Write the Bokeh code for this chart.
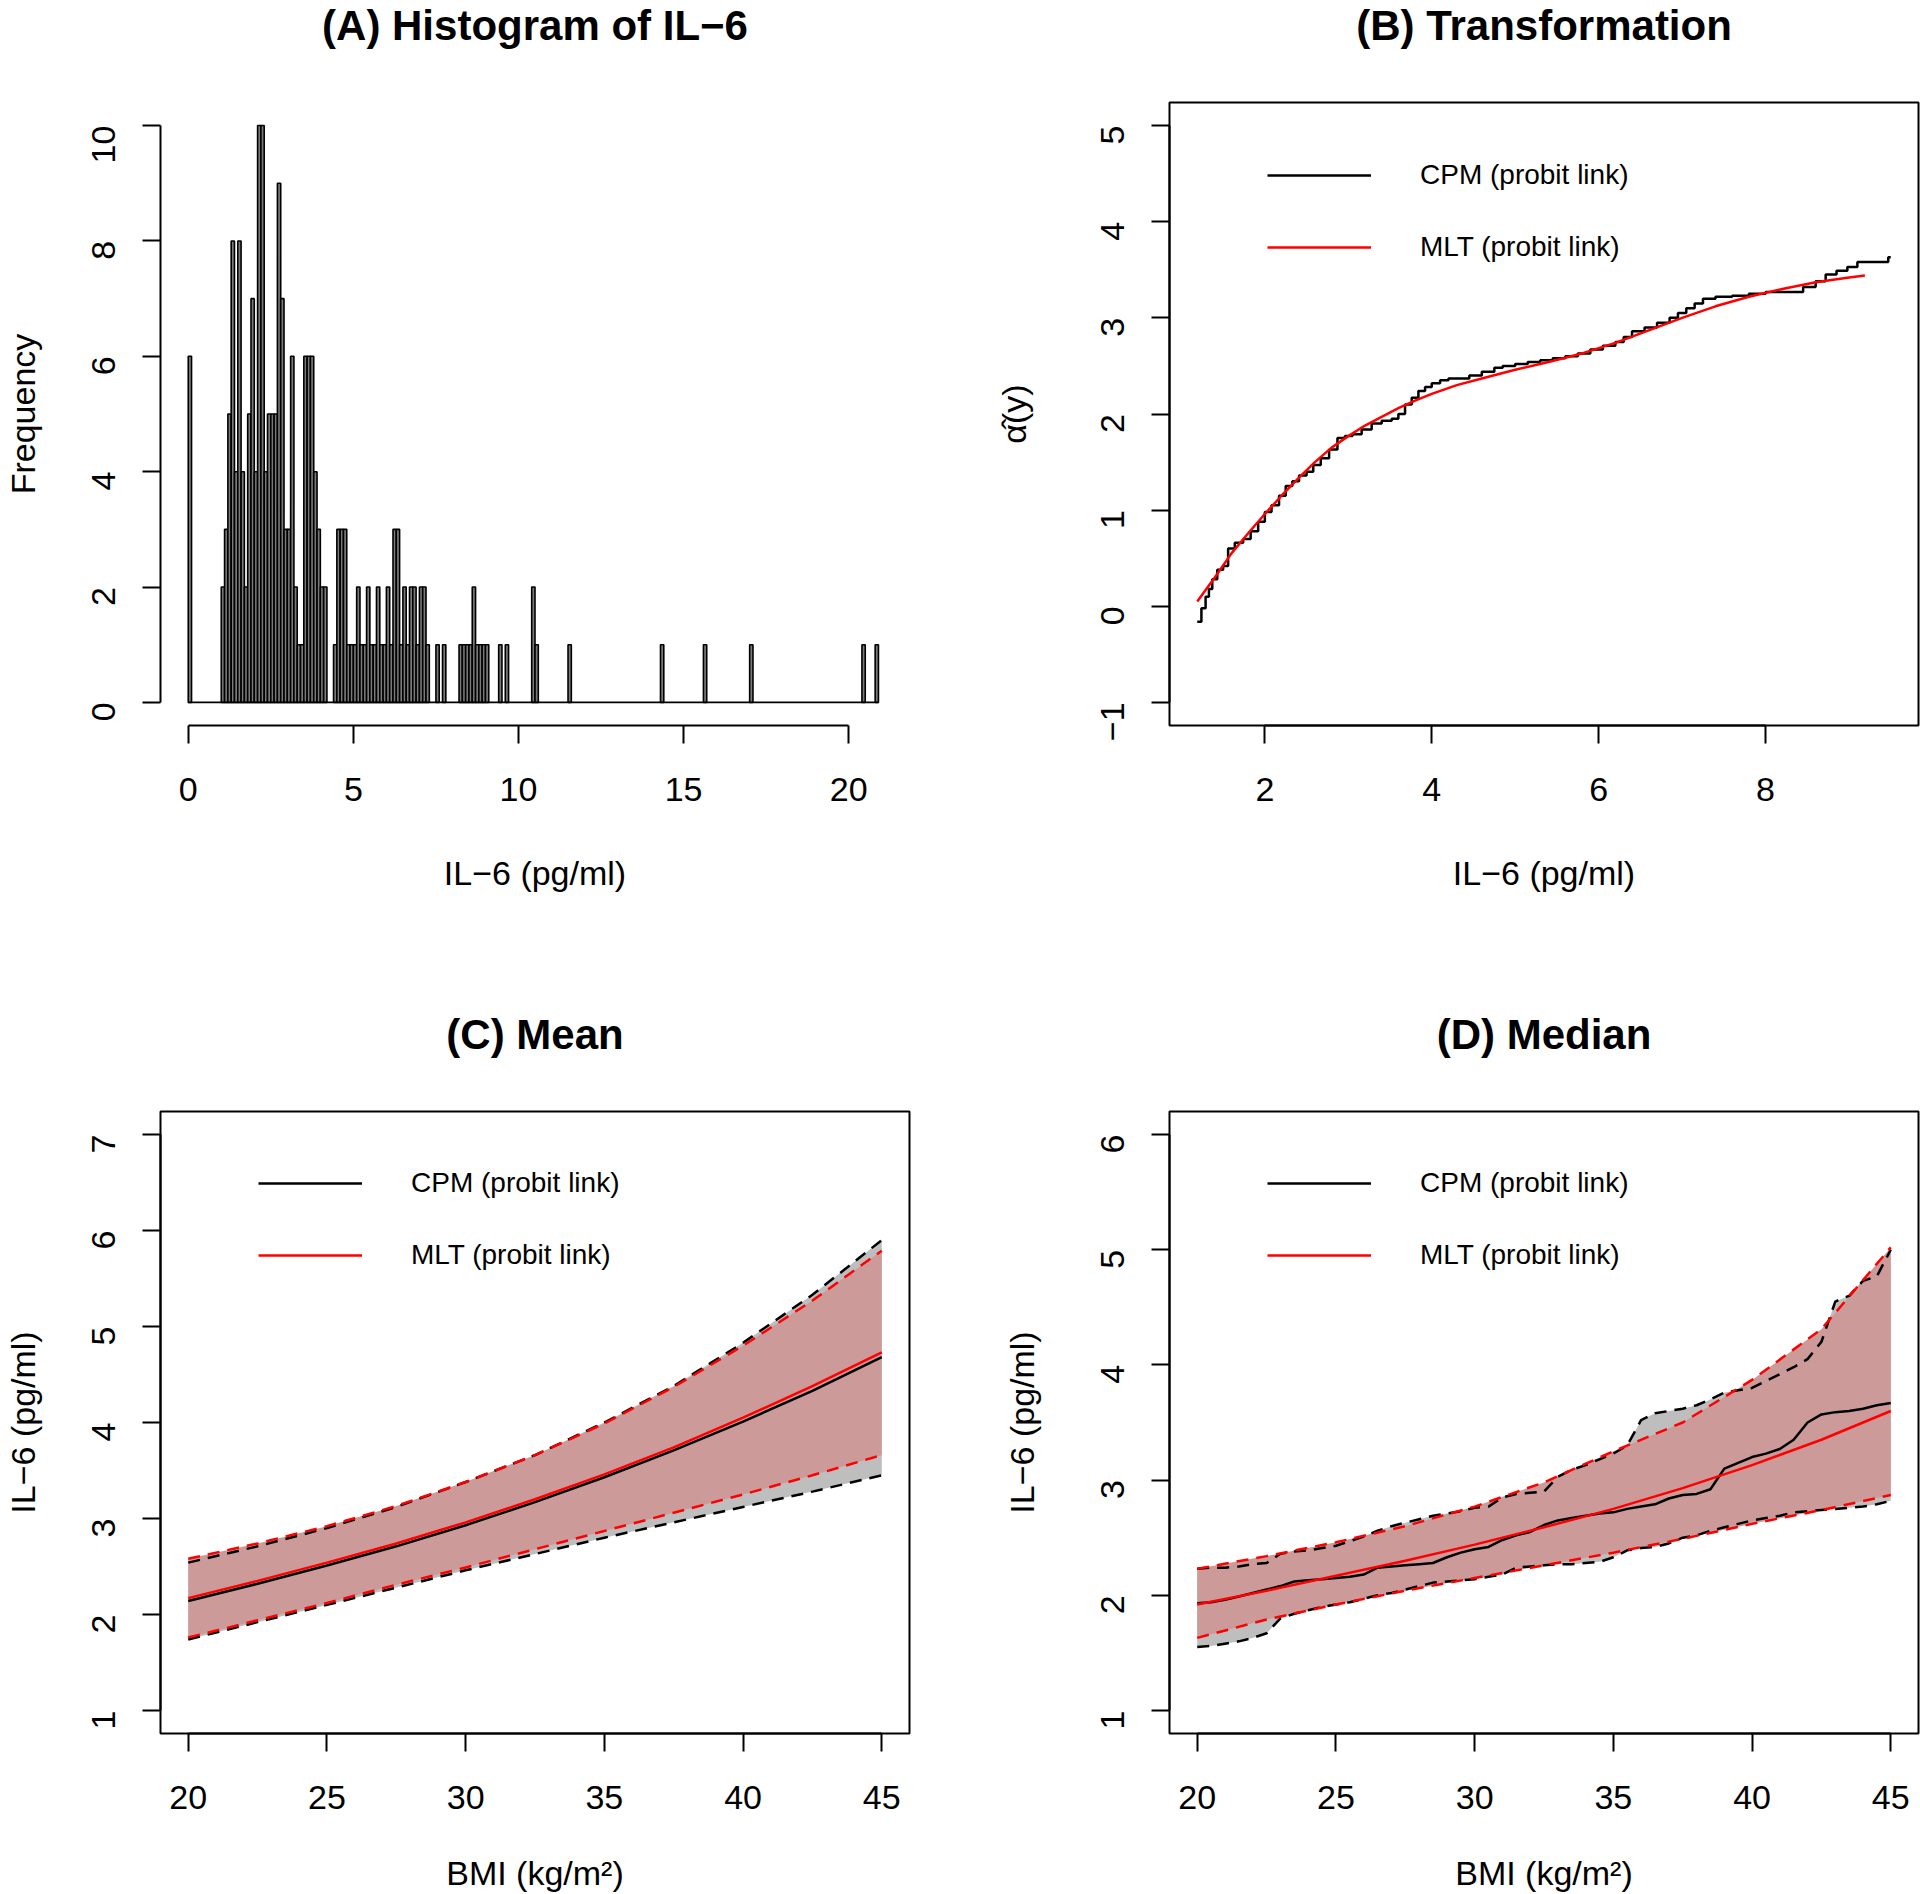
import math
from bokeh.plotting import figure
from bokeh.models import Range1d, FixedTicker, Legend, LegendItem, LinearAxis, Title
from bokeh.layouts import row, column
from bokeh.embed import file_html
from bokeh.resources import INLINE

FONT = "Liberation Sans"

# ---------------- Panel A: histogram of IL-6 ----------------
hist_bin_width = 0.1
hist_bin_start = [0.0, 1.0, 1.1, 1.2, 1.3, 1.4, 1.5, 1.6, 1.7, 1.8, 1.9, 2.0, 2.1, 2.2, 2.3, 2.4, 2.5,
                  2.6, 2.7, 2.8, 2.9, 3.0, 3.1, 3.2, 3.3, 3.4, 3.5, 3.6, 3.7, 3.8, 3.9, 4.0, 4.1,
                  4.4, 4.5, 4.6, 4.7, 4.8, 4.9, 5.0, 5.1, 5.2, 5.3, 5.4, 5.5, 5.6, 5.7, 5.8, 5.9,
                  6.0, 6.1, 6.2, 6.3, 6.4, 6.5, 6.6, 6.7, 6.8, 6.9, 7.0, 7.1, 7.2, 7.5, 7.7,
                  8.2, 8.3, 8.4, 8.5, 8.6, 8.7, 8.8, 8.9, 9.0, 9.4, 9.6, 10.4, 10.5, 11.5,
                  14.3, 15.6, 17.0, 20.4, 20.8]
hist_count = [6, 2, 3, 5, 8, 4, 8, 4, 2, 5, 7, 4, 10, 10, 4, 5, 5,
              5, 9, 7, 3, 3, 6, 2, 1, 1, 6, 6, 6, 4, 3, 2, 2,
              1, 3, 3, 3, 1, 1, 1, 2, 1, 1, 2, 1, 1, 2, 1, 1,
              2, 1, 3, 3, 1, 2, 1, 2, 2, 1, 2, 2, 1, 1, 1,
              1, 1, 1, 1, 2, 1, 1, 1, 1, 1, 1, 2, 1, 1,
              1, 1, 1, 1, 1]
hist_xticks = [0, 5, 10, 15, 20]
hist_yticks = [0, 2, 4, 6, 8, 10]

# ---------------- Panel B: transformation ----------------
cpm_il6_x = [1.19, 1.24, 1.29, 1.33, 1.37, 1.43, 1.50, 1.56, 1.64, 1.74, 1.83, 1.92, 2.00, 2.08, 2.17,
             2.25, 2.33, 2.41, 2.50, 2.58, 2.67, 2.77, 2.87, 2.96, 3.05, 3.16, 3.28, 3.40, 3.52, 3.60,
             3.68, 3.76, 3.84, 3.92, 4.00, 4.10, 4.20, 4.45, 4.60, 4.75, 4.85, 5.00, 5.15, 5.30, 5.45,
             5.60, 5.75, 5.90, 6.05, 6.20, 6.30, 6.40, 6.55, 6.70, 6.85, 6.95, 7.05, 7.15, 7.25, 7.40,
             7.60, 7.80, 8.00, 8.30, 8.45, 8.60, 8.72, 8.85, 8.98, 9.10, 9.47, 9.50]
cpm_alpha = [-0.16, -0.02, 0.10, 0.18, 0.28, 0.38, 0.42, 0.60, 0.66, 0.70, 0.78, 0.88, 0.98, 1.05, 1.15,
             1.25, 1.30, 1.36, 1.40, 1.47, 1.54, 1.63, 1.75, 1.77, 1.79, 1.84, 1.90, 1.93, 1.95, 2.00,
             2.10, 2.17, 2.24, 2.28, 2.32, 2.35, 2.37, 2.40, 2.44, 2.48, 2.50, 2.52, 2.54, 2.56, 2.58,
             2.60, 2.63, 2.67, 2.71, 2.75, 2.80, 2.86, 2.90, 2.95, 3.00, 3.05, 3.10, 3.15, 3.20, 3.22,
             3.23, 3.25, 3.27, 3.27, 3.32, 3.38, 3.45, 3.49, 3.53, 3.58, 3.63, 3.63]
mlt_il6_x = [1.19, 1.4, 1.6, 1.8, 2.0, 2.2, 2.4, 2.6, 2.8, 3.0, 3.2, 3.4, 3.6, 3.8, 4.0, 4.3, 4.6,
             5.0, 5.4, 5.8, 6.2, 6.6, 7.0, 7.4, 7.8, 8.2, 8.6, 9.0, 9.19]
mlt_alpha = [0.05, 0.30, 0.55, 0.76, 0.96, 1.15, 1.33, 1.50, 1.65, 1.77, 1.88, 1.97, 2.06, 2.14, 2.21,
             2.30, 2.37, 2.46, 2.54, 2.63, 2.74, 2.87, 3.00, 3.12, 3.22, 3.30, 3.37, 3.42, 3.44]
trans_xticks = [2, 4, 6, 8]
trans_yticks = [-1, 0, 1, 2, 3, 4, 5]
trans_ylim = (-1, 5)

# ---------------- Panel C: mean ----------------
bmi = [20, 22.5, 25, 27.5, 30, 32.5, 35, 37.5, 40, 42.5, 45]
mean_cpm = [2.14, 2.32, 2.51, 2.71, 2.93, 3.17, 3.43, 3.71, 4.01, 4.33, 4.68]
mean_cpm_lo = [1.74, 1.92, 2.10, 2.28, 2.46, 2.63, 2.80, 2.96, 3.12, 3.28, 3.45]
mean_cpm_hi = [2.54, 2.71, 2.90, 3.12, 3.38, 3.66, 4.00, 4.38, 4.83, 5.33, 5.90]
mean_mlt = [2.17, 2.35, 2.54, 2.74, 2.96, 3.20, 3.46, 3.74, 4.05, 4.38, 4.73]
mean_mlt_lo = [1.76, 1.94, 2.12, 2.31, 2.49, 2.68, 2.87, 3.06, 3.25, 3.45, 3.66]
mean_mlt_hi = [2.58, 2.74, 2.92, 3.13, 3.38, 3.66, 3.99, 4.37, 4.80, 5.27, 5.79]
mean_ylim = (1, 7)

# ---------------- Panel D: median ----------------
bmi_fine = [20.0, 20.5, 21.0, 21.5, 22.0, 22.5, 23.0, 23.5, 24.0, 24.5, 25.0, 25.5, 26.0, 26.5,
            27.0, 27.5, 28.0, 28.5, 29.0, 29.5, 30.0, 30.5, 31.0, 31.5, 32.0, 32.5, 33.0, 33.5,
            34.0, 34.5, 35.0, 35.5, 36.0, 36.5, 37.0, 37.5, 38.0, 38.5, 39.0, 39.5, 40.0, 40.5,
            41.0, 41.5, 42.0, 42.5, 43.0, 43.5, 44.0, 44.5, 45.0]
med_cpm = [1.93, 1.94, 1.96, 1.99, 2.02, 2.05, 2.08, 2.12, 2.13, 2.14, 2.15, 2.16, 2.18, 2.24,
           2.25, 2.26, 2.27, 2.28, 2.33, 2.37, 2.40, 2.42, 2.48, 2.52, 2.55, 2.61, 2.65, 2.67,
           2.69, 2.71, 2.72, 2.75, 2.77, 2.79, 2.84, 2.87, 2.88, 2.92, 3.10, 3.15, 3.20, 3.23,
           3.27, 3.35, 3.50, 3.57, 3.59, 3.60, 3.62, 3.65, 3.67]
med_cpm_hi = [2.23, 2.24, 2.24, 2.25, 2.27, 2.28, 2.36, 2.38, 2.39, 2.41, 2.43, 2.47, 2.51, 2.56,
              2.60, 2.63, 2.66, 2.69, 2.71, 2.73, 2.76, 2.77, 2.85, 2.88, 2.89, 2.90, 3.03, 3.09,
              3.13, 3.18, 3.23, 3.30, 3.52, 3.58, 3.60, 3.62, 3.65, 3.70, 3.76, 3.78, 3.80, 3.86,
              3.92, 3.98, 4.05, 4.20, 4.55, 4.60, 4.73, 4.77, 5.00]
med_cpm_lo = [1.55, 1.56, 1.58, 1.60, 1.63, 1.67, 1.80, 1.84, 1.87, 1.90, 1.92, 1.94, 1.97, 2.00,
              2.02, 2.05, 2.08, 2.11, 2.12, 2.13, 2.14, 2.16, 2.18, 2.24, 2.25, 2.26, 2.27, 2.27,
              2.28, 2.29, 2.33, 2.39, 2.41, 2.42, 2.45, 2.50, 2.52, 2.56, 2.59, 2.62, 2.65, 2.67,
              2.69, 2.72, 2.73, 2.74, 2.75, 2.76, 2.77, 2.79, 2.82]
med_mlt = [1.92, 2.04, 2.17, 2.30, 2.44, 2.59, 2.75, 2.93, 3.13, 3.35, 3.60]
med_mlt_hi = [2.23, 2.34, 2.46, 2.60, 2.77, 2.98, 3.25, 3.50, 3.87, 4.31, 5.02]
med_mlt_lo = [1.63, 1.79, 1.92, 2.04, 2.15, 2.26, 2.37, 2.49, 2.62, 2.74, 2.87]
median_ylim = (1, 6)

bmi_ticks = [20, 25, 30, 35, 40, 45]
mean_yticks = [1, 2, 3, 4, 5, 6, 7]
median_yticks = [1, 2, 3, 4, 5, 6]

label_cpm = "CPM (probit link)"
label_mlt = "MLT (probit link)"

BAND_GRAY = "#BEBEBE"
BAND_RED = "#CD9A9A"

FRAME_H = 623
BORDER_TOP = 102
TITLE_GAP = 52
TITLE_STANDOFF = 0


def r_range(lo, hi):
    d = (hi - lo) * 0.04
    return Range1d(lo - d, hi + d)


def make_fig(width, height, left, right, bottom, xr, yr, title):
    p = figure(width=width, height=height, x_range=xr, y_range=yr,
               output_backend="svg", toolbar_location=None,
               min_border_left=left, min_border_right=right,
               min_border_top=BORDER_TOP, min_border_bottom=bottom)
    # invisible spacer axis between frame and title (lifts the title to the top edge)
    mid = (xr.start + xr.end) / 2
    spacer = LinearAxis(ticker=FixedTicker(ticks=[mid]), axis_line_color=None,
                        major_tick_line_alpha=0, minor_tick_line_color=None,
                        major_tick_out=TITLE_GAP, major_tick_in=0, minor_tick_out=0,
                        major_label_overrides={mid: ""}, major_label_text_alpha=0,
                        major_label_standoff=0)
    p.add_layout(spacer, "above")
    p.add_layout(Title(text=title, text_font=FONT, text_font_style="bold",
                       text_font_size="42px", text_color="black", align="center",
                       vertical_align="top", standoff=TITLE_STANDOFF), "above")
    p.xgrid.visible = False
    p.ygrid.visible = False
    p.background_fill_color = "white"
    p.border_fill_color = "white"
    return p


def style_axes(p, xticks, yticks, xlabel, ylabel, boxed, xlab_standoff, ylab_standoff):
    for ax in (p.below[0], p.left[0]):
        ax.major_tick_line_width = 2
        ax.major_tick_line_color = "black"
        ax.major_tick_out = 18
        ax.major_tick_in = 0
        ax.minor_tick_line_color = None
        ax.axis_line_width = 2
        ax.axis_line_color = "black"
        ax.major_label_text_font = FONT
        ax.major_label_text_font_size = "34px"
        ax.major_label_text_color = "black"
        ax.axis_label_text_font = FONT
        ax.axis_label_text_font_size = "34px"
        ax.axis_label_text_font_style = "normal"
        ax.axis_label_text_color = "black"
    xa, ya = p.below[0], p.left[0]
    xa.ticker = FixedTicker(ticks=xticks)
    ya.ticker = FixedTicker(ticks=yticks)
    xa.bounds = (xticks[0], xticks[-1])
    ya.bounds = (yticks[0], yticks[-1])
    xa.major_label_standoff = 34
    ya.major_label_standoff = 39
    xa.axis_label_standoff = xlab_standoff
    ya.axis_label_standoff = ylab_standoff
    ya.major_label_orientation = math.pi / 2
    xa.axis_label = xlabel
    ya.axis_label = ylabel
    overrides = {t: str(t).replace("-", "\u2212") for t in yticks if t < 0}
    if overrides:
        ya.major_label_overrides = overrides
    if boxed:
        p.outline_line_color = "black"
        p.outline_line_width = 2
        p.outline_line_alpha = 1.0
    else:
        p.outline_line_color = None


def add_legend(p, r_black, r_red):
    leg = Legend(items=[LegendItem(label=label_cpm, renderers=[r_black]),
                        LegendItem(label=label_mlt, renderers=[r_red])],
                 location=(98, 461), orientation="vertical",
                 border_line_color=None, background_fill_alpha=0,
                 label_text_font=FONT, label_text_font_size="28px", label_text_color="black",
                 glyph_width=104, glyph_height=34, label_height=34,
                 label_standoff=49, spacing=38, padding=10, margin=0)
    p.add_layout(leg)


LEFT_W, RIGHT_W = 960, 960
TOP_H, BOT_H = 1009, 885
TOP_BOTTOM_BORDER = TOP_H - BORDER_TOP - FRAME_H
BOT_BOTTOM_BORDER = BOT_H - BORDER_TOP - FRAME_H

# ---------- A ----------
pA = make_fig(LEFT_W, TOP_H, 159, 51, TOP_BOTTOM_BORDER,
              r_range(hist_bin_start[0], 21.0), r_range(0, 10), "(A) Histogram of IL\u22126")
pA.quad(left=hist_bin_start, right=[s + hist_bin_width for s in hist_bin_start],
        bottom=[0] * len(hist_count), top=hist_count,
        fill_color="#7A7A7A", line_color="black", line_width=1.6)
pA.segment(x0=[hist_bin_start[0]], x1=[hist_bin_start[-1] + hist_bin_width], y0=[0], y1=[0],
           line_color="black", line_width=1.8)
style_axes(pA, hist_xticks, hist_yticks, "IL\u22126 (pg/ml)", "Frequency", False, 50, 36)

# ---------- B ----------
pB = make_fig(RIGHT_W, TOP_H, 209, 2, TOP_BOTTOM_BORDER,
              r_range(min(cpm_il6_x), max(cpm_il6_x)), r_range(*trans_ylim), "(B) Transformation")
rb = pB.step(cpm_il6_x, cpm_alpha, mode="after", line_color="black", line_width=2.5)
rr = pB.line(mlt_il6_x, mlt_alpha, line_color="red", line_width=2.5)
style_axes(pB, trans_xticks, trans_yticks, "IL\u22126 (pg/ml)", "\u03b1\u0302(y)", True, 50, 54)
add_legend(pB, rb, rr)

# ---------- C ----------
pC = make_fig(LEFT_W, BOT_H, 159, 51, BOT_BOTTOM_BORDER,
              r_range(bmi[0], bmi[-1]), r_range(*mean_ylim), "(C) Mean")
pC.varea(x=bmi, y1=mean_cpm_lo, y2=mean_cpm_hi, fill_color=BAND_GRAY)
pC.varea(x=bmi, y1=mean_mlt_lo, y2=mean_mlt_hi, fill_color=BAND_RED)
pC.line(bmi, mean_cpm_lo, line_color="black", line_width=2.5, line_dash="12 8")
pC.line(bmi, mean_cpm_hi, line_color="black", line_width=2.5, line_dash="12 8")
rcb = pC.line(bmi, mean_cpm, line_color="black", line_width=2.5)
pC.line(bmi, mean_mlt_lo, line_color="red", line_width=2.5, line_dash="12 8")
pC.line(bmi, mean_mlt_hi, line_color="red", line_width=2.5, line_dash="12 8")
rcr = pC.line(bmi, mean_mlt, line_color="red", line_width=2.5)
style_axes(pC, bmi_ticks, mean_yticks, "BMI (kg/m\u00b2)", "IL\u22126 (pg/ml)", True, 42, 36)
add_legend(pC, rcb, rcr)

# ---------- D ----------
pD = make_fig(RIGHT_W, BOT_H, 209, 2, BOT_BOTTOM_BORDER,
              r_range(bmi[0], bmi[-1]), r_range(*median_ylim), "(D) Median")
pD.varea(x=bmi_fine, y1=med_cpm_lo, y2=med_cpm_hi, fill_color=BAND_GRAY)
pD.varea(x=bmi, y1=med_mlt_lo, y2=med_mlt_hi, fill_color=BAND_RED)
pD.line(bmi_fine, med_cpm_lo, line_color="black", line_width=2.5, line_dash="12 8")
pD.line(bmi_fine, med_cpm_hi, line_color="black", line_width=2.5, line_dash="12 8")
rdb = pD.line(bmi_fine, med_cpm, line_color="black", line_width=2.5)
pD.line(bmi, med_mlt_lo, line_color="red", line_width=2.5, line_dash="12 8")
pD.line(bmi, med_mlt_hi, line_color="red", line_width=2.5, line_dash="12 8")
rdr = pD.line(bmi, med_mlt, line_color="red", line_width=2.5)
style_axes(pD, bmi_ticks, median_yticks, "BMI (kg/m\u00b2)", "IL\u22126 (pg/ml)", True, 42, 46)
add_legend(pD, rdb, rdr)

layout = column(row(pA, pB), row(pC, pD))
open("out.html", "w").write(file_html(layout, INLINE))
